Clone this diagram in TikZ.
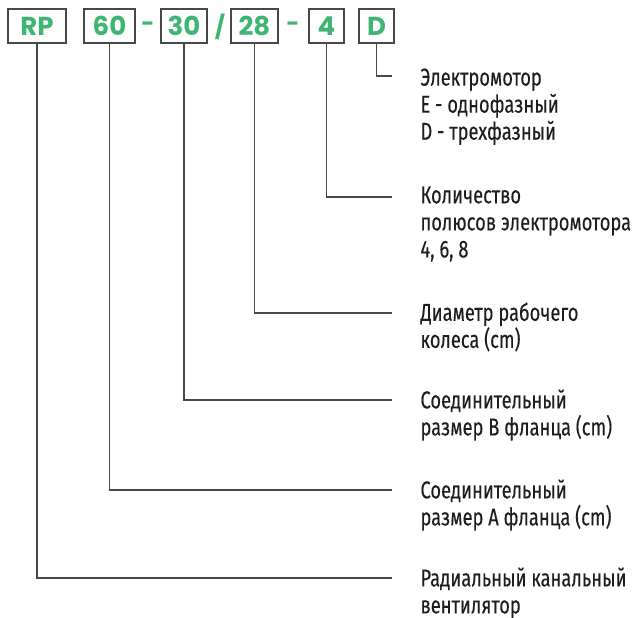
\documentclass[tikz,border=0pt]{standalone}
\usepackage{fontspec}
\setmainfont{Fira Sans}[FakeStretch=0.75,FakeBold=0.25]
\newfontfamily\codefont{Poppins}
\definecolor{codegreen}{RGB}{62,181,115}
\definecolor{leadgray}{RGB}{72,72,72}
\definecolor{descgray}{RGB}{30,30,30}
\tikzset{every picture/.style={line width=0.75pt}}

\begin{document}
\begin{tikzpicture}[x=0.75pt,y=0.75pt,yscale=-1,xscale=1,
  codebox/.style={draw=leadgray,line width=1.1pt,minimum height=25.5pt,inner sep=0pt,text=codegreen,font=\codefont\bfseries\fontsize{19.5}{22}\selectfont},
  sepmark/.style={inner sep=0pt,text=codegreen,font=\codefont\bfseries\fontsize{17}{20}\selectfont},
  lead/.style={draw=leadgray,line width=1.1pt},
  desc/.style={anchor=north west,inner sep=0pt,align=left,text=descgray,font=\fontsize{18.3}{20.3}\selectfont}]
\useasboundingbox (0,0) rectangle (640,618);

%Code boxes
\node [codebox,minimum width=43.5pt] (cRP) at (37,26) {RP};
\node [codebox,minimum width=38.25pt] (cA) at (109.5,26) {60};
\node [sepmark] (sepA) at (148,27) {-};
\node [codebox,minimum width=34.5pt] (cB) at (184,26) {30};
\node [sepmark] (slash) at (220,27) {/};
\node [codebox,minimum width=35.25pt] (cW) at (254.5,26) {28};
\node [sepmark] (sepB) at (293,27) {-};
\node [codebox,minimum width=26.25pt] (cP) at (326.5,26) {4};
\node [codebox,minimum width=26.25pt] (cD) at (376.5,26) {D};

%Line ends
\coordinate (eD) at (392,76);
\coordinate (eP) at (392,197);
\coordinate (eW) at (392,313);
\coordinate (eB) at (392,400);
\coordinate (eA) at (392,490);
\coordinate (eRP) at (392,578);

%Leader lines
\draw [lead] (cD.south) |- (eD);
\draw [lead] (cP.south) |- (eP);
\draw [lead] (cW.south) |- (eW);
\draw [lead] (cB.south) |- (eB);
\draw [lead] (cA.south) |- (eA);
\draw [lead] (cRP.south) |- (eRP);

% Text Node
\node [desc] (tD) at (420,68) {Электромотор\\E - однофазный\\D - трехфазный};
% Text Node
\node [desc] (tP) at (420,186) {Количество\\полюсов электромотора\\4, 6, 8};
% Text Node
\node [desc] (tW) at (420,302) {Диаметр рабочего\\колеса (cm)};
% Text Node
\node [desc] (tB) at (420,389) {Соединительный\\размер B фланца (cm)};
% Text Node
\node [desc] (tA) at (420,479) {Соединительный\\размер A фланца (cm)};
% Text Node
\node [desc] (tRP) at (420,567) {Радиальный канальный\\вентилятор};

\end{tikzpicture}
\end{document}
